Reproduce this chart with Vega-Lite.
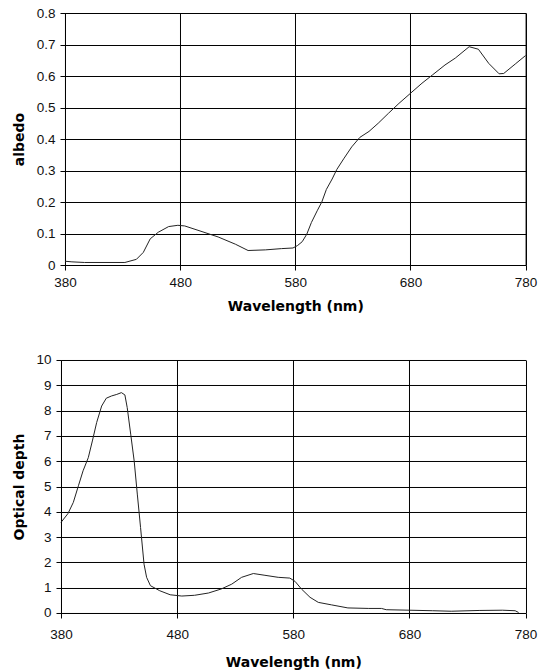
{
  "$schema": "https://vega.github.io/schema/vega-lite/v6.json",
  "background": "white",
  "padding": {"left": 12, "top": 5, "right": 5, "bottom": 0},
  "spacing": 39,
  "columns": 1,
  "config": {
    "view": {"stroke": "black", "strokeWidth": 1},
    "axis": {
      "domainColor": "black",
      "gridColor": "black",
      "gridOpacity": 1,
      "gridWidth": 1,
      "tickColor": "black",
      "tickSize": 5,
      "labelColor": "#111",
      "labelFont": "Liberation Sans",
      "labelFontSize": 13.5,
      "titleFont": "DejaVu Sans",
      "titleFontSize": 14,
      "titleFontWeight": "bold",
      "titleColor": "black"
    },
    "axisX": {"labelFlush": false},
    "axisY": {"labelPadding": 5, "titlePadding": 3}
  },
  "datasets": {
    "albedo": [
      {"wl": 380, "v": 0.012}, {"wl": 386, "v": 0.010}, {"wl": 397, "v": 0.008},
      {"wl": 432, "v": 0.008}, {"wl": 442, "v": 0.018}, {"wl": 448, "v": 0.040},
      {"wl": 454, "v": 0.083}, {"wl": 461, "v": 0.104}, {"wl": 470, "v": 0.122},
      {"wl": 478, "v": 0.126}, {"wl": 484, "v": 0.124}, {"wl": 499, "v": 0.106},
      {"wl": 513, "v": 0.089}, {"wl": 528, "v": 0.066}, {"wl": 539, "v": 0.046},
      {"wl": 554, "v": 0.048}, {"wl": 568, "v": 0.052}, {"wl": 578, "v": 0.054},
      {"wl": 582, "v": 0.062}, {"wl": 586, "v": 0.074}, {"wl": 590, "v": 0.098},
      {"wl": 594, "v": 0.135}, {"wl": 599, "v": 0.172}, {"wl": 603, "v": 0.200},
      {"wl": 607, "v": 0.240}, {"wl": 612, "v": 0.273}, {"wl": 616, "v": 0.303},
      {"wl": 622, "v": 0.337}, {"wl": 629, "v": 0.375}, {"wl": 636, "v": 0.405},
      {"wl": 644, "v": 0.424}, {"wl": 652, "v": 0.450}, {"wl": 661, "v": 0.482},
      {"wl": 670, "v": 0.513}, {"wl": 680, "v": 0.545}, {"wl": 690, "v": 0.577},
      {"wl": 699, "v": 0.603}, {"wl": 710, "v": 0.635}, {"wl": 719, "v": 0.657},
      {"wl": 731, "v": 0.693}, {"wl": 739, "v": 0.685}, {"wl": 748, "v": 0.640},
      {"wl": 757, "v": 0.607}, {"wl": 761, "v": 0.608}, {"wl": 771, "v": 0.638},
      {"wl": 780, "v": 0.665}
    ],
    "depth": [
      {"wl": 380, "v": 3.58}, {"wl": 386, "v": 3.93}, {"wl": 390.6, "v": 4.37},
      {"wl": 395, "v": 5.03}, {"wl": 399, "v": 5.62}, {"wl": 403.5, "v": 6.14},
      {"wl": 407, "v": 6.80}, {"wl": 410.7, "v": 7.53}, {"wl": 415, "v": 8.18},
      {"wl": 419, "v": 8.49}, {"wl": 423.6, "v": 8.58}, {"wl": 428, "v": 8.64},
      {"wl": 432, "v": 8.71}, {"wl": 435, "v": 8.62}, {"wl": 437, "v": 8.12},
      {"wl": 440, "v": 7.07}, {"wl": 443, "v": 6.01}, {"wl": 445.7, "v": 4.70},
      {"wl": 448.5, "v": 3.38}, {"wl": 451.5, "v": 1.93}, {"wl": 453.7, "v": 1.41},
      {"wl": 457, "v": 1.08}, {"wl": 465, "v": 0.88}, {"wl": 474, "v": 0.72},
      {"wl": 484, "v": 0.67}, {"wl": 495, "v": 0.70}, {"wl": 507, "v": 0.79},
      {"wl": 518, "v": 0.95}, {"wl": 527, "v": 1.14}, {"wl": 535.5, "v": 1.41},
      {"wl": 545.6, "v": 1.56}, {"wl": 555.6, "v": 1.49}, {"wl": 567, "v": 1.41},
      {"wl": 577, "v": 1.38}, {"wl": 581.5, "v": 1.25}, {"wl": 587, "v": 0.95},
      {"wl": 594.4, "v": 0.62}, {"wl": 601.5, "v": 0.42}, {"wl": 613, "v": 0.32},
      {"wl": 627, "v": 0.20}, {"wl": 645, "v": 0.18}, {"wl": 656, "v": 0.18},
      {"wl": 660, "v": 0.13}, {"wl": 680, "v": 0.11}, {"wl": 700, "v": 0.09},
      {"wl": 716, "v": 0.07}, {"wl": 740, "v": 0.10}, {"wl": 760, "v": 0.11},
      {"wl": 771, "v": 0.09}, {"wl": 774, "v": 0.02}
    ]
  },
  "concat": [
    {
      "width": 460.6,
      "height": 252,
      "data": {"name": "albedo"},
      "mark": {"type": "line", "color": "#222", "strokeWidth": 1},
      "encoding": {
        "x": {
          "field": "wl", "type": "quantitative", "title": "Wavelength (nm)",
          "scale": {"domain": [380, 780], "nice": false, "zero": false},
          "axis": {"values": [380, 480, 580, 680, 780], "labelPadding": 5, "titlePadding": 11}
        },
        "y": {
          "field": "v", "type": "quantitative", "title": "albedo",
          "scale": {"domain": [0, 0.8], "nice": false},
          "axis": {
            "values": [0, 0.1, 0.2, 0.3, 0.4, 0.5, 0.6, 0.7, 0.8],
            "labelExpr": "datum.value == 0 ? '0' : format(datum.value, '.1f')",
            "minExtent": 35, "maxExtent": 35
          }
        }
      }
    },
    {
      "width": 460.6,
      "height": 253,
      "view": {"stroke": null},
      "data": {"name": "depth"},
      "mark": {"type": "line", "color": "#222", "strokeWidth": 1},
      "encoding": {
        "x": {
          "field": "wl", "type": "quantitative", "title": "Wavelength (nm)",
          "scale": {"domain": [380, 780], "nice": false, "zero": false, "range": [-4, 460.6]},
          "axis": {"values": [380, 480, 580, 680, 780], "labelPadding": 10, "titlePadding": 14}
        },
        "y": {
          "field": "v", "type": "quantitative", "title": "Optical depth",
          "scale": {"domain": [0, 10], "nice": false},
          "axis": {
            "values": [0, 1, 2, 3, 4, 5, 6, 7, 8, 9, 10],
            "offset": 4,
            "minExtent": 31, "maxExtent": 31
          }
        }
      }
    }
  ]
}
